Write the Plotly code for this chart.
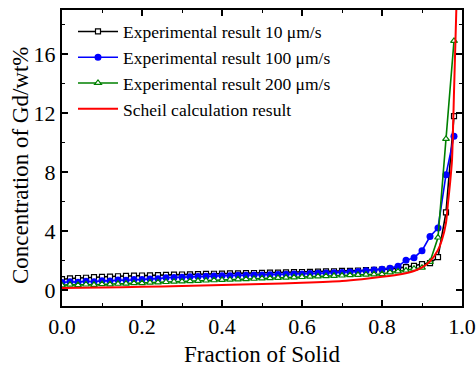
import plotly.graph_objects as go

fs_exp = [0.00, 0.02, 0.04, 0.06, 0.08, 0.10, 0.12, 0.14, 0.16, 0.18,
          0.20, 0.22, 0.24, 0.26, 0.28, 0.30, 0.32, 0.34, 0.36, 0.38,
          0.40, 0.42, 0.44, 0.46, 0.48, 0.50, 0.52, 0.54, 0.56, 0.58,
          0.60, 0.62, 0.64, 0.66, 0.68, 0.70, 0.72, 0.74, 0.76, 0.78,
          0.80, 0.82, 0.84, 0.86, 0.88, 0.90, 0.92, 0.94, 0.96, 0.98]

gd_10 = [0.72, 0.78, 0.80, 0.82, 0.86, 0.88, 0.90, 0.92, 0.94, 0.96,
         0.97, 0.98, 1.00, 1.01, 1.03, 1.04, 1.05, 1.06, 1.08, 1.09,
         1.10, 1.11, 1.12, 1.13, 1.14, 1.15, 1.16, 1.17, 1.19, 1.20,
         1.21, 1.22, 1.24, 1.25, 1.26, 1.28, 1.29, 1.31, 1.33, 1.35,
         1.38, 1.42, 1.47, 1.54, 1.63, 1.75, 1.81, 2.22, 5.26, 11.8]

gd_100 = [0.50, 0.55, 0.52, 0.58, 0.55, 0.62, 0.60, 0.66, 0.65, 0.70,
          0.70, 0.74, 0.75, 0.82, 0.83, 0.86, 0.88, 0.90, 0.92, 0.93,
          0.95, 0.96, 0.98, 0.99, 1.00, 1.01, 1.02, 1.04, 1.05, 1.07,
          1.08, 1.10, 1.12, 1.14, 1.16, 1.18, 1.21, 1.25, 1.29, 1.34,
          1.40, 1.47, 1.60, 2.00, 2.18, 2.66, 3.62, 4.20, 7.82, 10.43]

gd_200 = [0.30, 0.35, 0.32, 0.36, 0.34, 0.38, 0.37, 0.41, 0.42, 0.45,
          0.46, 0.49, 0.50, 0.53, 0.55, 0.57, 0.59, 0.61, 0.63, 0.65,
          0.67, 0.69, 0.71, 0.73, 0.75, 0.77, 0.79, 0.81, 0.83, 0.85,
          0.87, 0.89, 0.91, 0.93, 0.95, 0.97, 0.99, 1.01, 1.03, 1.05,
          1.07, 1.18, 1.25, 1.31, 1.43, 1.50, 1.90, 3.55, 10.25, 16.9]

fs_scheil = [0.00, 0.10, 0.20, 0.30, 0.40, 0.50, 0.60, 0.70, 0.75, 0.80,
             0.85, 0.88, 0.90, 0.92, 0.94, 0.95, 0.96, 0.965, 0.97, 0.975,
             0.98, 0.986]
gd_scheil = [0.12, 0.15, 0.20, 0.26, 0.32, 0.39, 0.48, 0.60, 0.72, 0.88,
             1.08, 1.28, 1.52, 1.93, 2.70, 3.40, 4.55, 5.90, 7.20, 8.80,
             13.4, 19.2]

names = ["Experimental result 10 \u03bcm/s",
         "Experimental result 100 \u03bcm/s",
         "Experimental result 200 \u03bcm/s",
         "Scheil calculation result"]
y_title = "Concentration of Gd/wt%"
x_title = "Fraction of Solid"

FONT = "Liberation Serif"

fig = go.Figure()
fig.add_trace(go.Scatter(
    x=fs_exp, y=gd_10, name=names[0], mode="lines+markers",
    line=dict(color="black", width=1.6),
    marker=dict(symbol="square", size=5, color="white",
                line=dict(color="black", width=1.2))))
fig.add_trace(go.Scatter(
    x=fs_exp, y=gd_100, name=names[1], mode="lines+markers",
    line=dict(color="#0000FF", width=1.6),
    marker=dict(symbol="circle", size=7, color="#0000FF",
                line=dict(color="#0000FF", width=0))))
fig.add_trace(go.Scatter(
    x=fs_exp, y=gd_200, name=names[2], mode="lines+markers",
    line=dict(color="#008000", width=1.6),
    marker=dict(symbol="triangle-up", size=6, color="white",
                line=dict(color="#008000", width=1.2))))
fig.add_trace(go.Scatter(
    x=fs_scheil, y=gd_scheil, name=names[3], mode="lines",
    line=dict(color="#FF0000", width=2, shape="spline", smoothing=0.6)))

axis_common = dict(
    showline=True, linecolor="black", linewidth=2, mirror="ticks",
    ticks="inside", ticklen=6, tickwidth=1.5, tickcolor="black",
    showgrid=False, zeroline=False, automargin=False,
    tickfont=dict(family=FONT, size=22, color="black"),
)

fig.update_xaxes(
    range=[0, 1.0], tickvals=[0, 0.2, 0.4, 0.6, 0.8, 1.0],
    ticktext=["0.0", "0.2", "0.4", "0.6", "0.8", "1.0"],
    minor=dict(ticks="inside", ticklen=3, tickwidth=1.2, tickcolor="black", dtick=0.1),
    **axis_common)
fig.update_yaxes(
    range=[-1.1, 19.0], tickvals=[0, 4, 8, 12, 16],
    minor=dict(ticks="inside", ticklen=3, tickwidth=1.2, tickcolor="black",
               tickvals=[2, 6, 10, 14, 18]),
    **axis_common)

fig.add_annotation(
    text=y_title, textangle=-90, showarrow=False,
    xref="paper", yref="paper", x=-0.105, y=0.476,
    xanchor="center", yanchor="middle",
    font=dict(family=FONT, size=23, color="black"))
fig.add_annotation(
    text=x_title, showarrow=False,
    xref="paper", yref="paper", x=0.5, y=-0.1655,
    xanchor="center", yanchor="middle",
    font=dict(family=FONT, size=23, color="black"))

fig.update_layout(
    width=476, height=369,
    margin=dict(l=62, r=14, t=10, b=63),
    paper_bgcolor="white", plot_bgcolor="white",
    font=dict(family=FONT, color="black"),
    legend=dict(x=0.0275, y=0.988, xanchor="left", yanchor="top",
                bgcolor="rgba(0,0,0,0)", borderwidth=0,
                font=dict(family=FONT, size=17.5, color="black"),
                tracegroupgap=0, itemwidth=40),
)

fig.write_html("out.html")
